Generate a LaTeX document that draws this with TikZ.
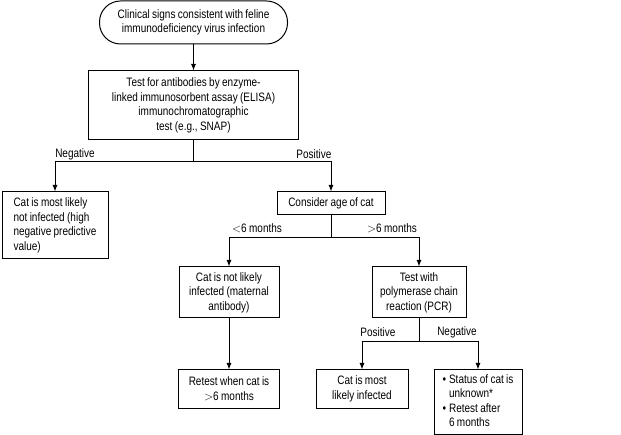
\documentclass[tikz,border=0pt]{standalone}
\usepackage{fontspec}
\setmainfont[FakeStretch=0.82,WordSpace=0.85]{Liberation Sans}
\usetikzlibrary{arrows.meta}
\begin{document}
\begin{tikzpicture}[x=1pt,y=-1pt,
  font=\fontsize{12.2}{14.6}\selectfont,
  box/.style={draw, line width=1pt, align=center, inner sep=2pt},
  arr/.style={-{Latex[length=6.5pt,width=5pt]}, line width=1pt},
  ln/.style={line width=1pt},
  lbl/.style={inner sep=0pt}]
\useasboundingbox (0,0) rectangle (621,435);

\node[box, rounded corners=21pt, minimum width=188pt, minimum height=43pt] (start) at (193.5,22.5)
  {Clinical signs consistent with feline\\immunodeficiency virus infection};
\node[box, minimum width=210pt, minimum height=69pt] (elisa) at (193.5,105.5)
  {Test for antibodies by enzyme-\\linked immunosorbent assay (ELISA)\\immunochromatographic\\test (e.g., SNAP)};
\node[box, minimum width=106pt, minimum height=67pt, align=left] (neg) at (55,225.5)
  {Cat is most likely\\not infected (high\\negative predictive\\value)};
\node[box, minimum width=108pt, minimum height=23pt] (consider) at (331,203.5)
  {Consider age of cat};
\node[box, minimum width=100pt, minimum height=51pt] (notlikely) at (229,292.5)
  {Cat is not likely\\infected (maternal\\antibody)};
\node[box, minimum width=94pt, minimum height=51pt] (pcr) at (419,292.5)
  {Test with\\polymerase chain\\reaction (PCR)};
\node[box, minimum width=101pt, minimum height=38pt] (retest) at (229,389)
  {Retest when cat is\\$>$6 months};
\node[box, minimum width=92pt, minimum height=38pt] (infected) at (362,389)
  {Cat is most\\likely infected};
\node[box, minimum width=88pt, minimum height=64pt, align=left] (unknown) at (478,402)
  {\begin{tabular}{@{}l@{\hspace{3pt}}l@{}}
   \textbullet & Status of cat is\\
               & unknown*\\
   \textbullet & Retest after\\
               & 6 months
   \end{tabular}};

\coordinate (j1) at (193.5,162);
\coordinate (j2) at (331,238);
\coordinate (j3) at (419,342);

\draw[arr] (start) -- (elisa);
\draw[ln] (elisa.south) -- (j1);
\draw[arr] (j1) -| (neg.north);
\draw[arr] (j1) -| (consider.north);
\draw[ln] (consider.south) -- (j2);
\draw[arr] (j2) -| (notlikely.north);
\draw[arr] (j2) -| (pcr.north);
\draw[arr] (notlikely) -- (retest);
\draw[ln] (pcr.south) -- (j3);
\draw[arr] (j3) -| (infected.north);
\draw[arr] (j3) -| (unknown.north);

\node[lbl] (lneg) at (75,154.5) {Negative};
\node[lbl] (lpos) at (314,154.5) {Positive};
\node[lbl] (lless) at (257,228) {$<$6 months};
\node[lbl] (lmore) at (392,228) {$>$6 months};
\node[lbl] (lpos2) at (378,332) {Positive};
\node[lbl] (lneg2) at (457,332) {Negative};
\end{tikzpicture}
\end{document}
